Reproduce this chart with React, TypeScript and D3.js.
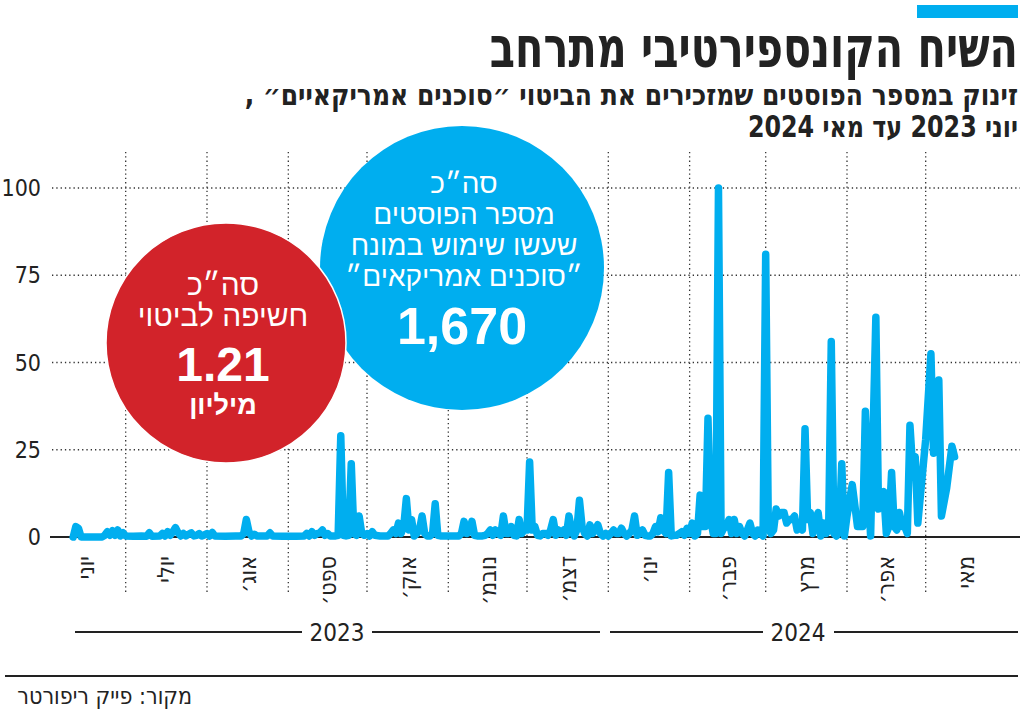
import React, { useLayoutEffect, useRef, useState } from "react";
import * as d3 from "d3";

// ---------- DATA ----------
const dates: string[] = [
  "2023-06-11","2023-06-12","2023-06-13","2023-06-14","2023-06-17","2023-06-20","2023-06-22","2023-06-23","2023-06-24","2023-06-25","2023-06-26","2023-06-27","2023-06-28","2023-06-29","2023-06-30",
  "2023-07-01","2023-07-04","2023-07-07","2023-07-09","2023-07-10","2023-07-11","2023-07-14","2023-07-15","2023-07-16","2023-07-17","2023-07-18","2023-07-19","2023-07-20","2023-07-21","2023-07-22","2023-07-23","2023-07-24","2023-07-25","2023-07-26","2023-07-27","2023-07-28","2023-07-29","2023-07-30","2023-07-31",
  "2023-08-01","2023-08-02","2023-08-03","2023-08-04","2023-08-08","2023-08-12","2023-08-14","2023-08-15","2023-08-16","2023-08-17","2023-08-18","2023-08-19","2023-08-20","2023-08-24","2023-08-25","2023-08-26","2023-08-30",
  "2023-09-04","2023-09-07","2023-09-08","2023-09-09","2023-09-10","2023-09-11","2023-09-12","2023-09-13","2023-09-14","2023-09-15","2023-09-16","2023-09-17","2023-09-19","2023-09-20","2023-09-21","2023-09-22","2023-09-23","2023-09-24","2023-09-25","2023-09-26","2023-09-27","2023-09-28","2023-09-29","2023-09-30",
  "2023-10-01","2023-10-02","2023-10-03","2023-10-04","2023-10-06","2023-10-09","2023-10-10","2023-10-11","2023-10-12","2023-10-13","2023-10-14","2023-10-15","2023-10-16","2023-10-17","2023-10-18","2023-10-19","2023-10-20","2023-10-21","2023-10-22","2023-10-23","2023-10-24","2023-10-25","2023-10-26","2023-10-27","2023-10-28","2023-10-29","2023-10-31",
  "2023-11-03","2023-11-05","2023-11-06","2023-11-07","2023-11-08","2023-11-09","2023-11-10","2023-11-11","2023-11-12","2023-11-14","2023-11-15","2023-11-16","2023-11-17","2023-11-18","2023-11-19","2023-11-20","2023-11-21","2023-11-22","2023-11-23","2023-11-24","2023-11-25","2023-11-26","2023-11-27","2023-11-28","2023-11-29","2023-11-30",
  "2023-12-01","2023-12-02","2023-12-03","2023-12-04","2023-12-05","2023-12-06","2023-12-07","2023-12-08","2023-12-09","2023-12-10","2023-12-11","2023-12-12","2023-12-13","2023-12-14","2023-12-15","2023-12-16","2023-12-17","2023-12-18","2023-12-19","2023-12-20","2023-12-21","2023-12-22","2023-12-23","2023-12-24","2023-12-25","2023-12-26","2023-12-27","2023-12-28","2023-12-29","2023-12-30","2023-12-31",
  "2024-01-01","2024-01-02","2024-01-03","2024-01-04","2024-01-05","2024-01-06","2024-01-07","2024-01-08","2024-01-09","2024-01-10","2024-01-11","2024-01-12","2024-01-13","2024-01-14","2024-01-15","2024-01-16","2024-01-17","2024-01-18","2024-01-19","2024-01-20","2024-01-21","2024-01-22","2024-01-23","2024-01-24","2024-01-25","2024-01-26","2024-01-27","2024-01-28","2024-01-29","2024-01-30","2024-01-31",
  "2024-02-01","2024-02-02","2024-02-03","2024-02-04","2024-02-05","2024-02-06","2024-02-07","2024-02-08","2024-02-09","2024-02-10","2024-02-11","2024-02-12","2024-02-13","2024-02-14","2024-02-15","2024-02-16","2024-02-17","2024-02-18","2024-02-19","2024-02-20","2024-02-21","2024-02-22","2024-02-23","2024-02-24","2024-02-25","2024-02-26","2024-02-27","2024-02-28","2024-02-29",
  "2024-03-01","2024-03-02","2024-03-03","2024-03-04","2024-03-05","2024-03-06","2024-03-07","2024-03-08","2024-03-09","2024-03-10","2024-03-11","2024-03-12","2024-03-13","2024-03-14","2024-03-15","2024-03-16","2024-03-17","2024-03-18","2024-03-19","2024-03-20","2024-03-21","2024-03-22","2024-03-23","2024-03-24","2024-03-25","2024-03-26","2024-03-27","2024-03-28","2024-03-29","2024-03-30","2024-03-31",
  "2024-04-01","2024-04-03","2024-04-05","2024-04-07","2024-04-08","2024-04-09","2024-04-10","2024-04-12","2024-04-13","2024-04-15","2024-04-16","2024-04-17","2024-04-18","2024-04-19","2024-04-20","2024-04-21","2024-04-22","2024-04-23","2024-04-24","2024-04-25","2024-04-26","2024-04-27","2024-04-28","2024-04-30",
  "2024-05-01","2024-05-03","2024-05-04","2024-05-06","2024-05-07","2024-05-09","2024-05-11","2024-05-12"
];
const values: number[] = [
  0,3,2.5,0,0,0,0,0.5,1.5,0.5,1.8,0.5,2,0.3,1.2,
  0.3,0.2,0.3,0.2,1.2,0.2,0.3,1,0.3,1.5,0.5,1.5,2.7,1.2,0.3,1,0.3,0.8,1.2,0.3,0.5,1,0.3,0.6,
  1,0.3,1.3,0.3,0.2,0.3,0.3,1,5,1.5,0.3,0.8,0.3,0.3,1.2,0.3,0.2,
  0.2,0.3,1,0.3,1.5,0.5,1,1.2,2,0.5,1,0.3,0.3,0.5,29,0.5,0.3,0.5,21,1,0.5,6,1,0.5,
  1,0.3,1.5,0.5,0.3,0.3,1,2,1,4,1,3,11,2,5,0.3,1,2,6,1,0.3,0.3,1,9.5,0.5,0.3,0.3,
  0.3,0.3,1,4.5,1,1.5,4.5,0.5,0.3,0.3,0.5,1,2,0.5,2,1,0.5,6,1,1,3,0.5,0.3,5,1,2,
  2,21.5,2,3,0.5,0.3,1,1,0.5,2,5,0.5,2,1,2,0.5,6,2,0.3,2,10.5,3,1,0.3,3.5,1,2,3.5,1,0.3,1,
  0.3,1,2,1,1,2.5,1,0.3,1,2,6,0.5,1,2,0.5,0.3,0.3,1,3,1.5,5.5,2,1,18.5,0.3,0.5,0.5,1,1.5,0.5,2.5,
  1,4,0.3,1,12,3,3,34,5,1,1,100,1,2.5,3,5,1,5,1,3,1,0.3,2,4,1,0.3,2,1,0.3,
  81,3,1,2,8,6,7,7,4,5,5,6,2,4,2,31,5,7,1,5,7,0.3,4,1,2,56,1,0.3,2,21,0.3,
  6,15,3,3,36,15,0.3,63,8,13,1,3,18.5,3,2,7,3,3,1,32,20,23,4,20,
  28,52.5,24,45,6,14,26,23
];
const yTicks: number[] = [0, 25, 50, 75, 100];
const monthLabels: string[] = ["יוני", "יולי", "אוג׳", "ספט׳", "אוק׳", "נובמ׳", "דצמ׳", "ינו׳", "פבר׳", "מרץ", "אפר׳", "מאי"];
const yearLabels: string[] = ["2023", "2024"];

const title = "השיח הקונספירטיבי מתרחב";
const subtitle1 = "זינוק במספר הפוסטים שמזכירים את הביטוי ״סוכנים אמריקאיים״ ,";
const subtitle2 = "יוני 2023 עד מאי 2024";
const redLines = ["סה״כ", "חשיפה לביטוי"];
const redValue = "1.21";
const redUnit = "מיליון";
const blueLines = ["סה״כ", "מספר הפוסטים", "שעשו שימוש במונח", "״סוכנים אמריקאים״"];
const blueValue = "1,670";
const source = "מקור: פייק ריפורטר";

const BLUE = "#00AEEF";
const RED = "#D2232A";
const INK = "#222";
const COND = "'Liberation Sans Narrow', 'DejaVu Sans Condensed', 'Liberation Sans', sans-serif";
const SANS = "'Liberation Sans', 'DejaVu Sans', sans-serif";

// Right-aligned RTL text squeezed horizontally to a given width
function FitText(props: { x: number; y: number; width: number; size: number; children: string }) {
  const ref = useRef<SVGTextElement>(null);
  const [s, setS] = useState(0.6);
  useLayoutEffect(() => {
    if (ref.current) {
      const w = ref.current.getComputedTextLength();
      if (w > 0) setS(props.width / w);
    }
  }, [props.width, props.children]);
  return (
    <text ref={ref} transform={`translate(${props.x},${props.y}) scale(${s},1)`} textAnchor="start" direction="rtl"
      fontFamily={COND} fontWeight={700} fontSize={props.size} fill={INK}>{props.children}</text>
  );
}

export default function App() {
  const parse = d3.timeParse("%Y-%m-%d");
  const start = new Date(2023, 5, 1);
  const end = new Date(2024, 5, 1);
  const x = d3.scaleTime().domain([start, end]).range([47, 1007]);
  const y = d3.scaleLinear().domain([0, 100]).range([537, 188]);
  const pts = dates.map((d, i) => [parse(d) as Date, values[i]] as [Date, number]);
  const line = d3.line<[Date, number]>().x(d => x(d[0])).y(d => y(d[1]));
  const months = d3.timeMonths(start, end);
  const inner = months.slice(1);

  return (
    <div style={{ position: "absolute", left: 0, top: 0 }}>
      <svg width={1024} height={715} style={{ display: "block", background: "#fff" }}>
        <rect x={917} y={5} width={101} height={13} fill={BLUE} />
        <FitText x={1018} y={67} width={528} size={56}>{title}</FitText>
        <FitText x={1018} y={105} width={773} size={30}>{subtitle1}</FitText>
        <FitText x={1018} y={137} width={270} size={30}>{subtitle2}</FitText>

        {/* grid */}
        {yTicks.filter(t => t > 0).map(t => (
          <line key={t} x1={52} x2={1020} y1={y(t)} y2={y(t)} stroke="#333" strokeWidth={1.3} strokeDasharray="1.3 3" />
        ))}
        {inner.map((m, i) => (
          <line key={i} x1={x(m)} x2={x(m)} y1={152} y2={595} stroke="#333" strokeWidth={1.3} strokeDasharray="1.3 3" />
        ))}
        {yTicks.map(t => (
          <text key={t} x={41} y={y(t)} dy="0.35em" textAnchor="end" fontFamily={COND} fontSize={23} fill={INK}>{t}</text>
        ))}
        <line x1={50} x2={1020} y1={y(0)} y2={y(0)} stroke={INK} strokeWidth={2} />

        {/* month labels */}
        {months.map((m, i) => {
          const cx = (x(m) + x(d3.timeMonth.offset(m, 1))) / 2;
          return (
            <text key={i} transform={`translate(${cx},556) rotate(-90)`} textAnchor="end" dominantBaseline="central" fontFamily={COND} fontSize={23} fill={INK}>{monthLabels[i]}</text>
          );
        })}

        {/* year row */}
        <line x1={75} x2={302} y1={632} y2={632} stroke={INK} strokeWidth={2} />
        <line x1={372} x2={600} y1={632} y2={632} stroke={INK} strokeWidth={2} />
        <text x={337} y={632} dy="0.36em" textAnchor="middle" fontFamily={COND} fontSize={24} fill={INK}>{yearLabels[0]}</text>
        <line x1={610} x2={763} y1={632} y2={632} stroke={INK} strokeWidth={2} />
        <line x1={834} x2={1018} y1={632} y2={632} stroke={INK} strokeWidth={2} />
        <text x={798} y={632} dy="0.36em" textAnchor="middle" fontFamily={COND} fontSize={24} fill={INK}>{yearLabels[1]}</text>

        {/* data line */}
        <path d={line(pts) || ""} fill="none" stroke={BLUE} strokeWidth={7.5} strokeLinejoin="round" strokeLinecap="round" />

        {/* circles */}
        <circle cx={462} cy={268} r={142} fill={BLUE} />
        <circle cx={226} cy={343} r={120} fill={RED} stroke="#fff" strokeWidth={1.5} />

        {blueLines.map((t, i) => (
          <text key={i} x={464} y={193 + i * 31} textAnchor="middle" direction="rtl" fontFamily={SANS} fontSize={28} fill="#fff">{t}</text>
        ))}
        <text x={462} y={344} textAnchor="middle" fontFamily={SANS} fontWeight={700} fontSize={52} fill="#fff">{blueValue}</text>

        <text x={223} y={295} textAnchor="middle" direction="rtl" fontFamily={SANS} fontSize={30} fill="#fff">{redLines[0]}</text>
        <text x={223} y={326} textAnchor="middle" direction="rtl" fontFamily={SANS} fontSize={30} fill="#fff">{redLines[1]}</text>
        <text x={223} y={381} textAnchor="middle" fontFamily={SANS} fontWeight={700} fontSize={48} fill="#fff">{redValue}</text>
        <text x={223} y={414} textAnchor="middle" direction="rtl" fontFamily={SANS} fontWeight={700} fontSize={27} fill="#fff">{redUnit}</text>

        {/* footer */}
        <line x1={5} x2={1018} y1={676} y2={676} stroke={INK} strokeWidth={2} />
        <text x={192} y={704} textAnchor="start" direction="rtl" fontFamily={COND} fontSize={23} fill={INK}>{source}</text>
      </svg>
    </div>
  );
}
